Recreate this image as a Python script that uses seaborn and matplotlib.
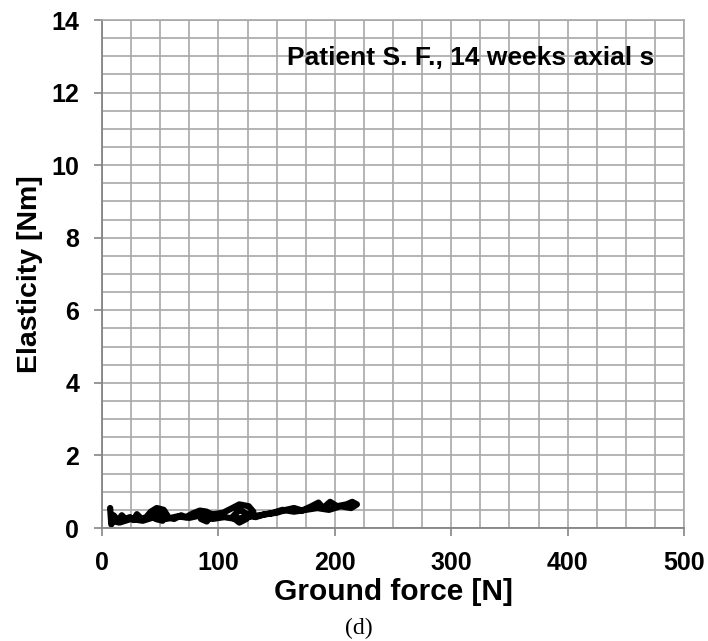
import matplotlib
matplotlib.use("Agg")
import matplotlib.pyplot as plt
import seaborn as sns
import pandas as pd
from matplotlib.ticker import MultipleLocator

ground_force = [7, 8, 10, 14, 17, 20, 24, 27, 30, 34, 38, 42, 47, 53, 56, 52, 46, 43, 48, 55,
                62, 68, 72, 78, 84, 90, 94, 90, 85, 88, 96, 104, 112, 118, 126, 130, 124, 118, 112, 118,
                124, 132, 140, 150, 158, 165, 172, 180, 186, 190, 196, 202, 210, 215, 219, 214, 205, 195, 185, 175,
                165, 155, 145, 135, 125, 115, 105, 95, 85, 75, 65, 55, 45, 35, 25, 15, 8]
elasticity = [0.55, 0.10, 0.35, 0.20, 0.35, 0.25, 0.30, 0.22, 0.38, 0.25, 0.30, 0.45, 0.55, 0.50, 0.35, 0.20, 0.25, 0.35, 0.45, 0.30,
              0.25, 0.35, 0.30, 0.40, 0.48, 0.45, 0.35, 0.18, 0.25, 0.42, 0.38, 0.42, 0.55, 0.65, 0.60, 0.45, 0.25, 0.15, 0.30, 0.50,
              0.40, 0.30, 0.38, 0.42, 0.50, 0.55, 0.48, 0.60, 0.70, 0.55, 0.72, 0.60, 0.65, 0.72, 0.65, 0.55, 0.60, 0.50, 0.55, 0.50,
              0.45, 0.50, 0.40, 0.35, 0.30, 0.25, 0.30, 0.25, 0.35, 0.28, 0.32, 0.25, 0.30, 0.20, 0.25, 0.15, 0.20]

x_ticks = [0, 100, 200, 300, 400, 500]
y_ticks = [0, 2, 4, 6, 8, 10, 12, 14]
annotation = "Patient S. F., 14 weeks axial s"
x_label = "Ground force [N]"
y_label = "Elasticity [Nm]"
panel = "(d)"

sns.set_theme(style="white")
plt.rcParams["font.family"] = ["Liberation Sans", "DejaVu Sans"]
plt.rcParams["text.color"] = "black"
plt.rcParams["axes.labelcolor"] = "black"
plt.rcParams["xtick.color"] = "black"
plt.rcParams["ytick.color"] = "black"

df = pd.DataFrame({"force": ground_force, "elasticity": elasticity})

fig = plt.figure(figsize=(7.08, 6.41), dpi=100)
ax = fig.add_axes([102/708, 1 - 528/641, (684 - 102)/708, (528 - 20)/641])

grid_color = "#A8A8A8"
ax.set_xlim(0, 500)
ax.set_ylim(0, 14)
ax.xaxis.set_minor_locator(MultipleLocator(25))
ax.yaxis.set_minor_locator(MultipleLocator(0.5))
ax.set_xticks(x_ticks)
ax.set_yticks(y_ticks)
ax.grid(True, which="both", color=grid_color, linewidth=1.2)
ax.set_axisbelow(True)

sns.lineplot(data=df, x="force", y="elasticity", sort=False, estimator=None,
             color="black", linewidth=4.5, ax=ax)

for s in ["top", "right"]:
    ax.spines[s].set_color(grid_color)
    ax.spines[s].set_linewidth(1.2)
for s in ["left", "bottom"]:
    ax.spines[s].set_color("#858585")
    ax.spines[s].set_linewidth(1.3)

ax.tick_params(axis="both", which="major", direction="out", length=5.5, width=1.2,
               color="#858585", labelcolor="black", labelsize=18, pad=11, left=True, bottom=True)
ax.tick_params(axis="both", which="minor", length=0)
for lbl in ax.get_xticklabels() + ax.get_yticklabels():
    lbl.set_fontweight("bold")

ax.set_xlabel(x_label, fontsize=21.5, fontweight="bold", labelpad=2, color="black")
ax.set_ylabel(y_label, fontsize=20.5, fontweight="bold", labelpad=6, color="black")

ax.text(159, 12.75, annotation, fontsize=19, fontweight="bold", ha="left", va="baseline", color="black")

fig.text(359/708, 1 - 628/641, panel, fontsize=17, family="Liberation Serif",
         ha="center", va="center", color="black")

fig.savefig("out.png", dpi=100, facecolor="white")
